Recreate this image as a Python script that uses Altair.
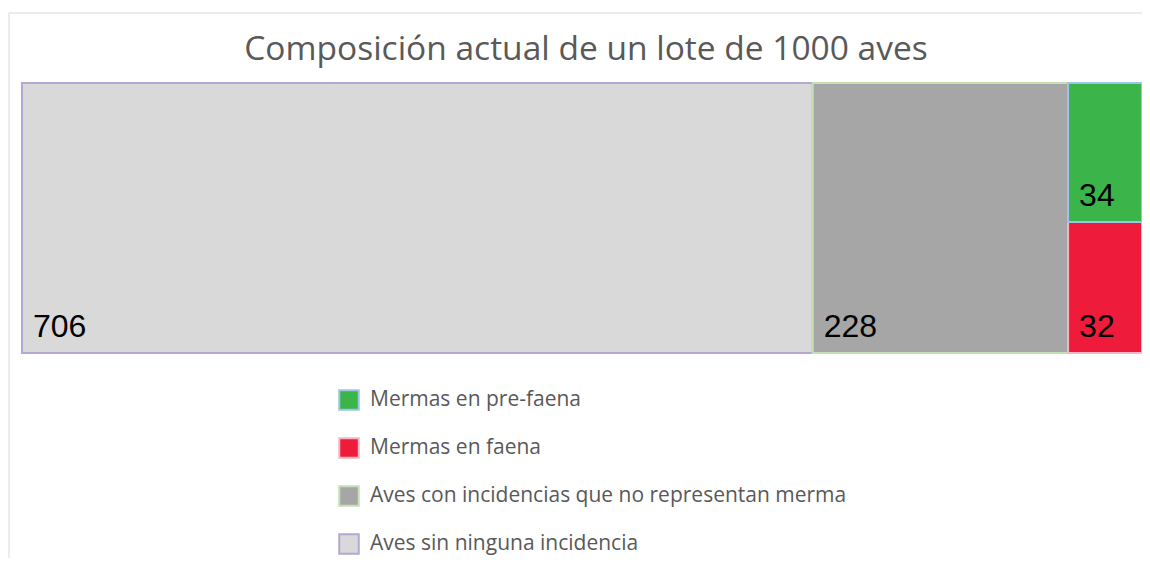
import altair as alt
import pandas as pd

categories = [
    "Aves sin ninguna incidencia",
    "Aves con incidencias que no representan merma",
    "Mermas en faena",
    "Mermas en pre-faena",
]
values = [706, 228, 32, 34]
column_group = [0, 1, 2, 2]  # treemap column each block belongs to

legend_order = [
    "Mermas en pre-faena",
    "Mermas en faena",
    "Aves con incidencias que no representan merma",
    "Aves sin ninguna incidencia",
]
fill_colors = ["#3bb44a", "#ee1b3b", "#a6a6a6", "#d9d9d9"]
stroke_colors = ["#9dc3e6", "#f4b6c2", "#c5e0b4", "#b4a7d6"]

df = pd.DataFrame({"cat": categories, "value": values, "col": column_group})
col_tot = df.groupby("col")["value"].sum()
col_x0 = col_tot.cumsum() - col_tot
df["x0"] = df["col"].map(col_x0)
df["x1"] = df["x0"] + df["col"].map(col_tot)
df["y1"] = df.groupby("col")["value"].cumsum() / df["col"].map(col_tot)
df["y0"] = df["y1"] - df["value"] / df["col"].map(col_tot)

total = sum(values)
xs = alt.Scale(domain=[0, total], nice=False, zero=False)
ys = alt.Scale(domain=[0, 1], nice=False, zero=False)

base = alt.Chart(df)

one = pd.DataFrame({"a": [0]})
frame_left = alt.Chart(one).mark_rule(color="#d9d9d9", strokeWidth=1).encode(
    x=alt.value(-13), y=alt.value(-70), y2=alt.value(480)
)
frame_top = alt.Chart(one).mark_rule(color="#d9d9d9", strokeWidth=1).encode(
    x=alt.value(-13), x2=alt.value(1120), y=alt.value(-70)
)

rects = base.mark_rect(strokeWidth=2).encode(
    x=alt.X("x0:Q", scale=xs, axis=None),
    x2="x1:Q",
    y=alt.Y("y0:Q", scale=ys, axis=None),
    y2="y1:Q",
    fill=alt.Fill(
        "cat:N",
        scale=alt.Scale(domain=legend_order, range=fill_colors),
        sort=legend_order,
        legend=alt.Legend(
            title=None,
            orient="none",
            legendX=316,
            legendY=306,
            symbolType="square",
            symbolSize=380,
            symbolStrokeWidth=2,
            labelFont="Open Sans",
            labelFontSize=21,
            labelColor="#595959",
            labelOffset=10,
            labelLimit=0,
            rowPadding=20,
        ),
    ),
    stroke=alt.Stroke(
        "cat:N",
        scale=alt.Scale(domain=legend_order, range=stroke_colors),
        sort=legend_order,
    ),
)

labels = base.mark_text(
    align="left", baseline="alphabetic", dx=11, dy=-16,
    font="Liberation Sans", fontSize=32, color="black"
).encode(
    x=alt.X("x0:Q", scale=xs),
    y=alt.Y("y0:Q", scale=ys),
    text="value:Q",
)

chart = alt.layer(frame_left, frame_top, rects, labels).properties(
    width=1120,
    height=270,
    autosize="none",
    padding={"left": 14, "top": 75, "right": 0, "bottom": 205},
    title=alt.TitleParams(
        "Composición actual de un lote de 1000 aves",
        font="Open Sans",
        fontSize=33.5,
        fontWeight="normal",
        color="#595959",
        anchor="middle",
        frame="group",
        offset=-55,
        dx=4,
    ),
).configure_view(stroke=None)

chart.save("out.html", embed_options={"renderer": "svg", "actions": False})
